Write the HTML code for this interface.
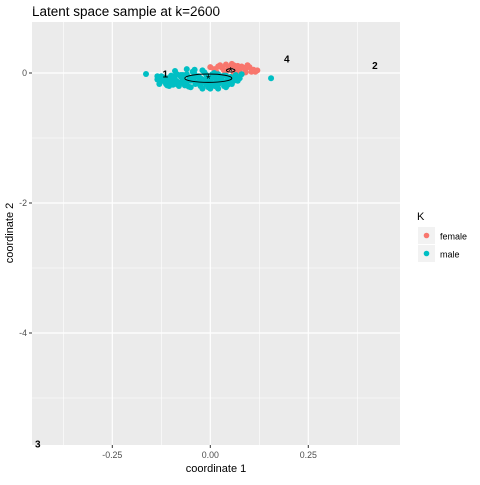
<!DOCTYPE html>
<html><head><meta charset="utf-8"><style>
body{margin:0;background:#fff;}
svg text{font-family:"Liberation Sans",sans-serif;}
</style></head><body>
<svg id="chart" width="480" height="480" xmlns="http://www.w3.org/2000/svg">
<text x="32" y="16" font-size="13.5" fill="#000">Latent space sample at k=2600</text>
<rect x="32" y="22" width="368" height="423" fill="#ebebeb"/>
<g id="grid"></g>
<g id="pts"></g>
<g id="ann"></g>
<g id="axes"></g>
<text x="216" y="472" font-size="11" text-anchor="middle">coordinate 1</text>
<text transform="translate(13,233) rotate(-90)" font-size="11" text-anchor="middle">coordinate 2</text>
<g>
<text x="417" y="220" font-size="11">K</text>
<rect x="418" y="227" width="17" height="17" fill="#f2f2f2"/>
<circle cx="426.5" cy="235.5" r="2.8" fill="#F8766D"/>
<text x="440" y="239.5" font-size="9">female</text>
<rect x="418" y="245" width="17" height="17" fill="#f2f2f2"/>
<circle cx="426.5" cy="253.5" r="2.8" fill="#00BFC4"/>
<text x="440" y="257.5" font-size="9">male</text>
</g>
</svg>
<script>
const xTicks=[-0.25,0,0.25];
const xTickLabels=["-0.25","0.00","0.25"];
const yTicks=[0,-2,-4];
const yTickLabels=["0","-2","-4"];
const maleX=[-0.164,0.155,-0.13,-0.12,-0.11,-0.10,-0.09,-0.08,-0.07,-0.06,-0.05,-0.04,-0.03,-0.02,-0.01,0,0.01,0.02,0.03,0.04,0.05,0.06,-0.125,-0.105,-0.085,-0.065,-0.045,-0.025,-0.005,0.015,0.035,0.055,0.07,-0.115,-0.095,-0.075,-0.055,-0.035,-0.015,0.005,0.025,0.045,0.065,-0.09,-0.07,-0.05,-0.03,-0.01,0.01,0.03,-0.06,-0.04,-0.02,0,0.02,-0.11,-0.13,0.075,0.08,
-0.135,-0.12,-0.105,-0.09,-0.075,-0.06,-0.045,-0.03,-0.015,0,0.015,0.03,0.045,0.06,-0.128,-0.113,-0.098,-0.083,-0.068,-0.053,-0.038,-0.023,-0.008,0.007,0.022,0.037,0.052,0.067,-0.1,-0.085,-0.07,-0.055,-0.04,-0.025,-0.01,0.005,0.02,0.035,-0.135,-0.08,-0.02,0.04];
const maleY=[-0.015,-0.08,-0.17,-0.12,-0.08,-0.13,-0.05,-0.15,-0.09,-0.02,-0.12,-0.06,-0.16,-0.1,-0.03,-0.13,-0.07,-0.18,-0.11,-0.04,-0.14,-0.08,-0.05,-0.2,-0.02,-0.19,0.02,-0.2,-0.22,-0.21,-0.2,-0.17,-0.12,-0.1,-0.18,-0.03,-0.21,-0.14,0.01,-0.2,-0.14,-0.18,-0.03,0.03,-0.11,-0.22,-0.05,-0.18,0.0,-0.05,0.06,0.05,0.04,-0.24,-0.24,-0.19,-0.1,-0.08,-0.02,
-0.1,-0.07,-0.14,-0.1,-0.06,-0.14,-0.09,-0.06,-0.14,-0.09,-0.13,-0.06,-0.1,-0.12,-0.14,-0.17,-0.1,-0.18,-0.16,-0.07,-0.17,-0.12,-0.18,-0.16,-0.1,-0.15,-0.06,-0.05,-0.04,-0.13,-0.03,-0.11,-0.02,-0.08,-0.11,-0.02,-0.02,-0.04,-0.05,-0.2,-0.24,-0.22];
const femaleX=[0.01,0.02,0.03,0.04,0.05,0.06,0.07,0.08,0.09,0.1,0.11,0.015,0.035,0.055,0.075,0.095,0.115,0.025,0.045,0.065,0.085,0.105,0.0,0.12,0.06,0.04,0.09,0.07];
const femaleY=[0.06,0.1,0.08,0.13,0.09,0.12,0.07,0.1,0.06,0.09,0.05,0.02,0.04,0.14,0.03,0.12,0.02,0.12,0.06,0.04,0.08,0.02,0.09,0.04,0.0,0.02,0.01,0.11];
const labelText=["1","2","3","4"];
const labelX=[-0.115,0.42,-0.44,0.195];
const labelY=[-0.01,0.12,-5.7,0.22];
const centroidX=[-0.005,0.052];
const centroidY=[-0.08,0.04];
const ellipseRX=[0.06,0.011];
const ellipseRY=[0.065,0.025];

const sx=v=>210.3+v*392, sy=v=>73-v*65;
const NS="http://www.w3.org/2000/svg";
function mk(tag,attrs,parent){const e=document.createElementNS(NS,tag);for(const k in attrs)e.setAttribute(k,attrs[k]);parent.appendChild(e);return e;}
const grid=document.getElementById('grid'),pts=document.getElementById('pts'),ann=document.getElementById('ann'),axes=document.getElementById('axes');
for(let i=0;i<xTicks.length+1;i++){const v=xTicks[0]-0.125+i*0.25;
 const l=mk('line',{x1:sx(v),x2:sx(v),y1:22,y2:445,stroke:'#fff','stroke-width':0.6},grid);
 
 }
for(let i=0;i<4;i++){const v=1-i*2;
 const l=mk('line',{x1:32,x2:400,y1:sy(v),y2:sy(v),stroke:'#fff','stroke-width':0.6},grid);
 
 }
xTicks.forEach((v,i)=>{
 const l=mk('line',{x1:sx(v),x2:sx(v),y1:22,y2:445,stroke:'#fff','stroke-width':1.2},grid);
 
 
 const t=mk('line',{x1:sx(v),x2:sx(v),y1:445,y2:448,stroke:'#333'},axes);
 
 
 const tx=mk('text',{x:sx(v),y:458,'font-size':8.8,fill:'#4d4d4d','text-anchor':'middle'},axes);tx.textContent=xTickLabels[i];
 
 });
yTicks.forEach((v,i)=>{
 const l=mk('line',{x1:32,x2:400,y1:sy(v),y2:sy(v),stroke:'#fff','stroke-width':1.2},grid);
 
 
 const t=mk('line',{x1:29,x2:32,y1:sy(v),y2:sy(v),stroke:'#333'},axes);
 
 
 const tx=mk('text',{x:27,y:sy(v)+3,'font-size':8.8,fill:'#4d4d4d','text-anchor':'end'},axes);tx.textContent=yTickLabels[i];
 
 });
femaleX.forEach((v,i)=>{const c=mk('circle',{cx:sx(v),cy:sy(femaleY[i]),r:3,fill:'#F8766D'},pts);
 
 });
maleX.forEach((v,i)=>{const c=mk('circle',{cx:sx(v),cy:sy(maleY[i]),r:3,fill:'#00BFC4'},pts);
 
 });
centroidX.forEach((v,i)=>{
 const e=mk('ellipse',{cx:sx(v),cy:sy(centroidY[i]),rx:ellipseRX[i]*392,ry:ellipseRY[i]*65,fill:'none',stroke:'#000','stroke-width':1},ann);
 
 
 const s=mk('text',{x:sx(v),y:sy(centroidY[i])+5,'font-size':12,'text-anchor':'middle'},ann);s.textContent='*';
 
 });
labelText.forEach((t,i)=>{const e=mk('text',{x:sx(labelX[i]),y:sy(labelY[i])+4,'font-size':10,'font-weight':'bold','text-anchor':'middle'},ann);e.textContent=t;
 
 });
</script>
</body></html>
